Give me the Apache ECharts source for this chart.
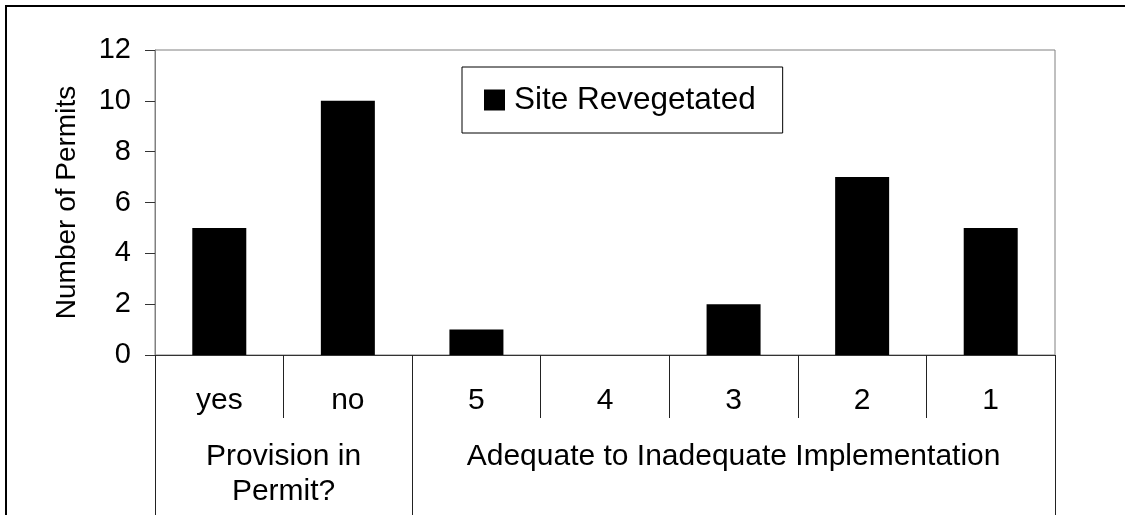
<!DOCTYPE html>
<html>
<head>
<meta charset="utf-8">
<script src="https://cdn.jsdelivr.net/npm/echarts@6/dist/echarts.min.js"></script>
<style>
  html, body { margin: 0; padding: 0; background: #fff; }
  #chart { width: 1125px; height: 515px; }
</style>
</head>
<body>
<div id="chart"></div>
<script>
// Bar categories and the counts of permits for each
const categories = ['yes', 'no', '5', '4', '3', '2', '1'];
const siteRevegetated = [5, 10, 1, 0, 2, 7, 5];

// Category groups: [start index, end index (exclusive), label]
const groups = [
  [0, 2, 'Provision in\nPermit?'],
  [2, 7, 'Adequate to Inadequate Implementation']
];

const yTicks = [0, 2, 4, 6, 8, 10, 12];

const FONT = '"Liberation Sans", Arial, sans-serif';

// group boundaries and centres on a 0..N value scale aligned with the category bands
const groupEdges = [0].concat(groups.map(g => g[1]));
const groupCentres = groups.map(g => (g[0] + g[1]) / 2);
const groupLabelAt = {};
groups.forEach(g => { groupLabelAt[(g[0] + g[1]) / 2] = g[2]; });

const chart = echarts.init(document.getElementById('chart'), null, { renderer: 'canvas' });

chart.setOption({
  animation: false,
  backgroundColor: '#fff',
  textStyle: { fontFamily: FONT },
  graphic: [{
    type: 'rect',
    shape: { x: 6, y: 6, width: 1200, height: 600 },
    style: { fill: 'none', stroke: '#000', lineWidth: 2 },
    silent: true
  }],
  grid: {
    left: 155, top: 50, width: 900, height: 305,
    show: true, borderColor: '#808080', borderWidth: 1,
    backgroundColor: 'transparent'
  },
  legend: {
    data: ['Site Revegetated'],
    left: 462, top: 67,
    orient: 'horizontal',
    icon: 'rect',
    itemWidth: 21, itemHeight: 21,
    padding: [17, 27, 17, 22],
    borderColor: '#000', borderWidth: 1,
    textStyle: { fontFamily: FONT, fontSize: 31.5, color: '#000', padding: [0, 0, 0, 4] }
  },
  xAxis: [{
    type: 'category',
    data: categories,
    position: 'bottom',
    boundaryGap: true,
    axisLine: { show: true, lineStyle: { color: '#333', width: 1 } },
    axisTick: { show: true, alignWithLabel: false, interval: 0, length: 63, lineStyle: { color: '#222' } },
    axisLabel: { interval: 0, margin: 31, fontFamily: FONT, fontSize: 30, color: '#000', lineHeight: 30 },
    splitLine: { show: false }
  }, {
    type: 'value',
    min: 0, max: categories.length,
    position: 'bottom',
    axisLine: { show: false },
    axisTick: { show: true, length: 165, customValues: groupEdges, lineStyle: { color: '#222' } },
    axisLabel: {
      show: true, margin: 84, fontFamily: FONT, fontSize: 30, color: '#000', lineHeight: 35,
      customValues: groupCentres,
      formatter: v => groupLabelAt[v] || ''
    },
    splitLine: { show: false }
  }],
  yAxis: {
    type: 'value',
    min: 0, max: 12, interval: 2,
    name: 'Number of Permits',
    nameLocation: 'middle',
    nameGap: 74,
    nameTextStyle: { fontFamily: FONT, fontSize: 28, color: '#000' },
    axisLine: { show: true, lineStyle: { color: '#808080', width: 1 } },
    axisTick: { show: true, inside: false, length: 10, lineStyle: { color: '#333' } },
    axisLabel: {
      margin: 24, fontFamily: FONT, fontSize: 29, color: '#000',
      formatter: v => (yTicks.indexOf(v) >= 0 ? String(v) : '')
    },
    splitLine: { show: false }
  },
  series: [{
    name: 'Site Revegetated',
    type: 'bar',
    xAxisIndex: 0,
    data: siteRevegetated,
    barWidth: '42%',
    itemStyle: { color: '#000' }
  }]
});
</script>
</body>
</html>
